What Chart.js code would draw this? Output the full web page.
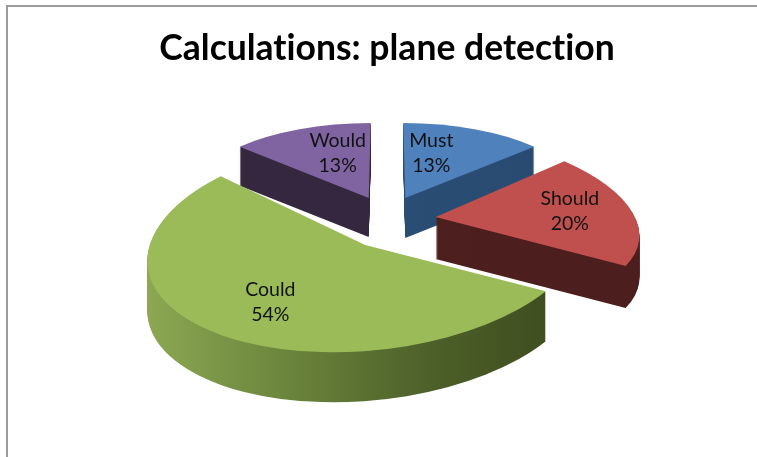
<!DOCTYPE html>
<html>
<head>
<meta charset="utf-8">
<style>
html, body { margin: 0; padding: 0; background: #fff; }
canvas { display: block; }
</style>
<script src="https://cdn.jsdelivr.net/npm/chart.js@4"></script>
</head>
<body>
<canvas id="chart1" width="757" height="457"></canvas>
<script>
var titleText = "Calculations: plane detection";
var categories = ["Must", "Should", "Could", "Would"];
var values = [13, 20, 54, 13];
var percentLabels = ["13%", "20%", "54%", "13%"];

// look of the 3D pie, nothing here is data
var topColors = ["#4f81bd", "#c0504d", "#9bbb59", "#8064a2"];
var wallStops = [
    [[0, "#2c5079"], [1, "#284a70"]],
    [[0, "#4e1f1f"], [1, "#4c1e1e"]],
    [[0, "#8ea954"], [0.3, "#718c40"], [0.7, "#4c5f28"], [1, "#3c4a1e"]],
    [[0, "#35283f"], [1, "#32253e"]]
];
var drawOrder = [3, 0, 1, 2];
var baseRadius = 100;
var explodeX = [46, 49, 37, 46];
var explodeY = [24, 24, 31, 24];
// per slice squash and shear, stands in for the perspective of the original
var squash = [
    [179, 0, 2, 75],
    [202, 7, 27, 89],
    [217, -6, -20, 107],
    [179, 0, -2, 75]
];
var wallDepth = [40, 42, 50, 39];
var labelFx = [0.383, 0.686, 0.663, 0.454];
var labelFy = [0.654, 0.96, 0.638, 0.654];

function sliceOrigin(arc, i) {
    var mid = (arc.startAngle + arc.endAngle) / 2;
    return {
        x: arc.x + explodeX[i] * Math.cos(mid),
        y: arc.y + explodeY[i] * Math.sin(mid)
    };
}

function placeSlice(ctx, arc, i, drop) {
    var o = sliceOrigin(arc, i);
    var m = squash[i];
    var r = arc.outerRadius;
    ctx.transform(m[0] / r, m[1] / r, m[2] / r, m[3] / r, o.x, o.y + drop);
    ctx.translate(-arc.x, -arc.y);
}

var pie3d = {
    id: "pie3d",
    beforeDraw: function (chart) {
        // frame of the original picture, only left and top show
        var ctx = chart.ctx;
        ctx.textRendering = "optimizeSpeed"; // no ti ligature in the title
        ctx.save();
        ctx.strokeStyle = "#9c9c9c";
        ctx.lineWidth = 2;
        ctx.beginPath();
        ctx.moveTo(7, 457);
        ctx.lineTo(7, 6);
        ctx.lineTo(757, 6);
        ctx.stroke();
        ctx.restore();
    },
    beforeDatasetsDraw: function (chart) {
        var ctx = chart.ctx;
        var arcs = chart.getDatasetMeta(0).data;
        drawOrder.forEach(function (i) {
            var arc = arcs[i];
            var shared = arc.options;
            var grad = ctx.createLinearGradient(arc.x - arc.outerRadius, 0, arc.x + arc.outerRadius, 0);
            wallStops[i].forEach(function (s) { grad.addColorStop(s[0], s[1]); });
            arc.options = Object.create(shared, { backgroundColor: { value: grad } });
            for (var d = wallDepth[i]; d >= 1; d--) {
                ctx.save();
                placeSlice(ctx, arc, i, d);
                arc.draw(ctx);
                ctx.restore();
            }
            arc.options = shared;
            ctx.save();
            placeSlice(ctx, arc, i, 0);
            arc.draw(ctx);
            ctx.restore();
        });
        return false;
    },
    afterDraw: function (chart) {
        var ctx = chart.ctx;
        var arcs = chart.getDatasetMeta(0).data;
        ctx.save();
        ctx.font = "19.5px Lato";
        ctx.fillStyle = "#111";
        ctx.textAlign = "center";
        ctx.textBaseline = "middle";
        arcs.forEach(function (arc, i) {
            var mid = (arc.startAngle + arc.endAngle) / 2;
            var o = sliceOrigin(arc, i);
            var m = squash[i];
            var u = labelFx[i] * Math.cos(mid);
            var v = labelFy[i] * Math.sin(mid);
            var x = o.x + m[0] * u + m[2] * v;
            var y = o.y + m[1] * u + m[3] * v;
            ctx.fillText(categories[i], x, y - 12.5);
            ctx.fillText(percentLabels[i], x, y + 12.5);
        });
        ctx.restore();
    }
};

var config = {
    type: "pie",
    data: {
        labels: categories,
        datasets: [{
            data: values,
            backgroundColor: topColors,
            borderWidth: 0
        }]
    },
    options: {
        responsive: false,
        animation: false,
        radius: baseRadius,
        layout: { padding: { left: 30, right: 13, top: 0, bottom: 97 } },
        plugins: {
            legend: { display: false },
            tooltip: { enabled: false },
            title: {
                display: true,
                text: titleText,
                color: "#000",
                font: { family: "Lato", size: 35.5, weight: "bold" },
                padding: { top: 27, bottom: 10.4 }
            }
        }
    },
    plugins: [pie3d]
};

var myChart = new Chart(document.getElementById("chart1"), config);
</script>
</body>
</html>
